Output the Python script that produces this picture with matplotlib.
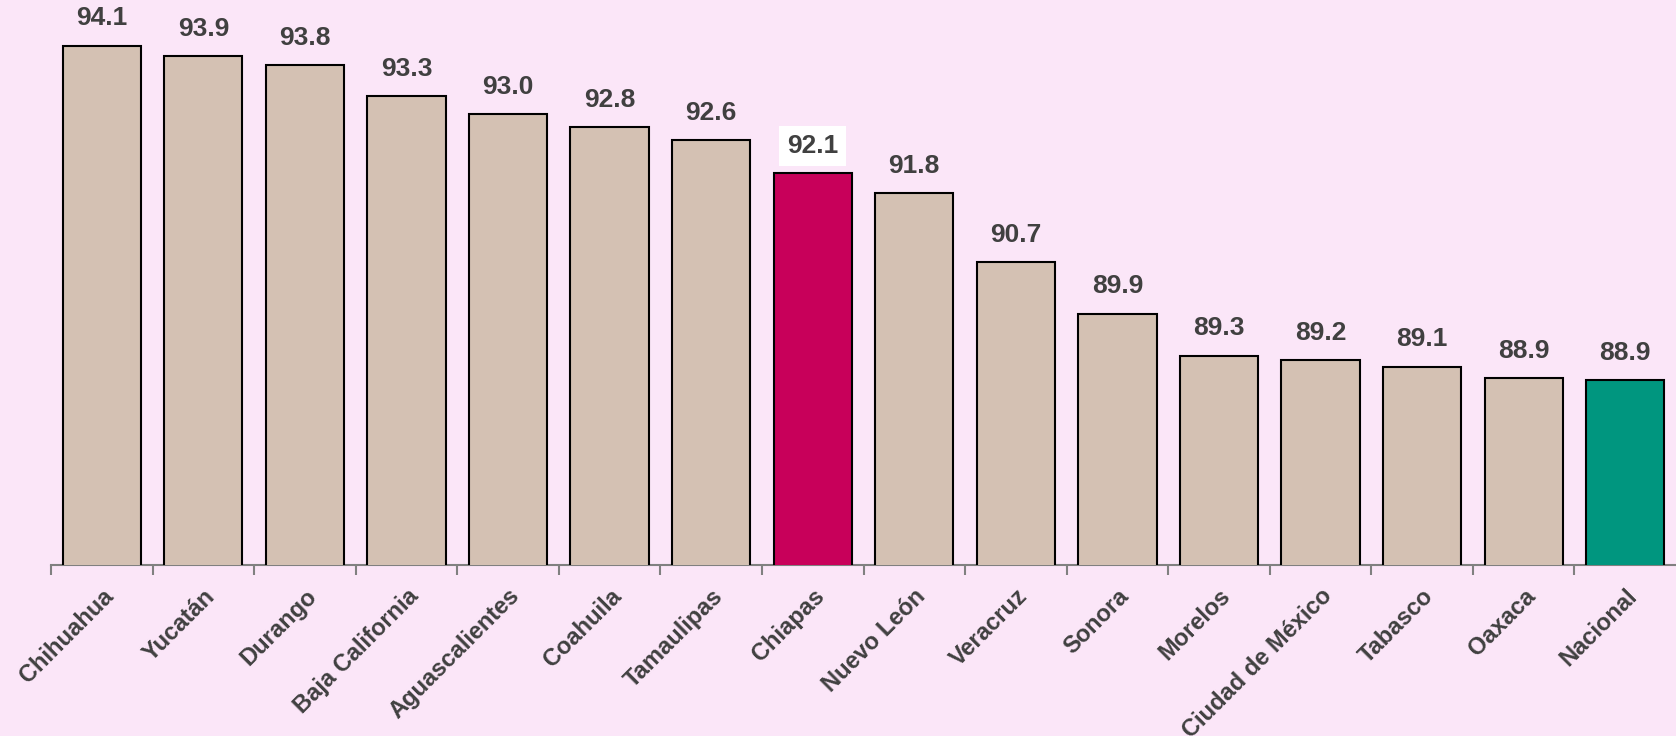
import numpy as np
import matplotlib.pyplot as plt
from matplotlib.ticker import FixedLocator, NullFormatter

# Data
estados = [
    "Chihuahua", "Yucatán", "Durango", "Baja California", "Aguascalientes",
    "Coahuila", "Tamaulipas", "Chiapas", "Nuevo León", "Veracruz",
    "Sonora", "Morelos", "Ciudad de México", "Tabasco", "Oaxaca", "Nacional",
]
valores = [
    94.10, 93.94, 93.80, 93.32, 93.04, 92.84, 92.64, 92.12,
    91.81, 90.74, 89.94, 89.29, 89.22, 89.12, 88.94, 88.91,
]
etiquetas = [f"{v:.1f}" for v in valores]

# Colours
fondo = "#FBE6F8"
color_base = "#D4C1B3"
color_chiapas = "#C8005A"
color_nacional = "#00967F"
texto = "#404040"

colores = []
for e in estados:
    if e == "Chiapas":
        colores.append(color_chiapas)
    elif e == "Nacional":
        colores.append(color_nacional)
    else:
        colores.append(color_base)

plt.rcParams["font.family"] = ["Liberation Sans", "DejaVu Sans"]

fig = plt.figure(figsize=(16.76, 7.36), dpi=100)
fig.patch.set_facecolor(fondo)

ax = fig.add_axes([51 / 1676, 171 / 736, 1 - 51 / 1676, 565 / 736])
ax.set_facecolor("none")

x = np.arange(len(estados))
bars = ax.bar(x, valores, width=0.77, color=colores,
              edgecolor="black", linewidth=1.5, zorder=3)

ax.set_xlim(-0.5, len(estados) - 0.5)
ax.set_ylim(86.04, 94.81)

# Value labels
for i, (v, lab) in enumerate(zip(valores, etiquetas)):
    kw = {}
    if estados[i] == "Chiapas":
        kw["bbox"] = dict(boxstyle="square,pad=0.3", facecolor="white",
                          edgecolor="none")
    ax.annotate(lab, (x[i], v), xytext=(0, 11), textcoords="offset points",
                ha="center", va="bottom", fontsize=19, fontweight="bold",
                color=texto, zorder=4, **kw)

# Axis styling
for s in ["left", "right", "top"]:
    ax.spines[s].set_visible(False)
ax.spines["bottom"].set_color("#808080")
ax.spines["bottom"].set_linewidth(1.5)
ax.set_yticks([])

ax.xaxis.set_major_locator(FixedLocator(x - 0.5))
ax.xaxis.set_major_formatter(NullFormatter())
ax.xaxis.set_minor_locator(FixedLocator(x))
ax.set_xticklabels(estados, minor=True, rotation=45, ha="right",
                   rotation_mode="anchor", fontsize=17, fontweight="bold",
                   color=texto)
ax.tick_params(axis="x", which="major", length=7, width=1.5,
               color="#808080", direction="out")
ax.tick_params(axis="x", which="minor", length=0, pad=14)

fig.savefig("out.png", dpi=100, facecolor=fondo)
